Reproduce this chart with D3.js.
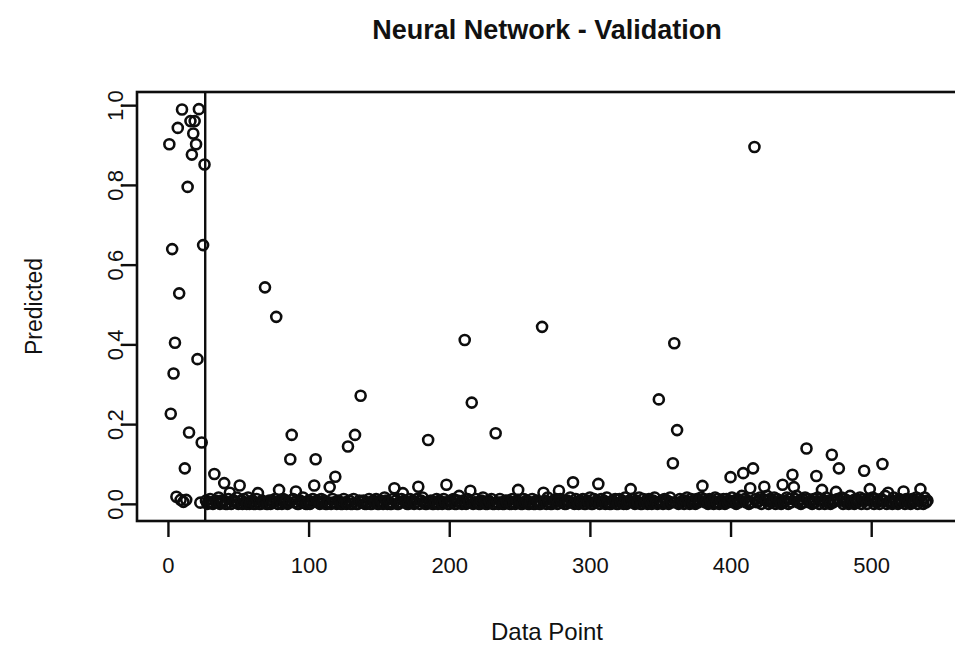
<!DOCTYPE html>
<html>
<head>
<meta charset="utf-8">
<script src="https://cdn.jsdelivr.net/npm/d3@7"></script>
<style>
  body { margin: 0; background: #fff; }
  text { font-family: "Liberation Sans", Arial, sans-serif; fill: #111; }
</style>
</head>
<body>
<svg id="chart" width="955" height="651"></svg>
<script>
// Predicted values for the first 26 data points (left of the cut line)
var headVals = [0.902, 0.226, 0.639, 0.327, 0.404, 0.018, 0.943, 0.528, 0.010, 0.989,
                0.005, 0.089, 0.010, 0.795, 0.179, 0.960, 0.876, 0.929, 0.960, 0.902,
                0.363, 0.990, 0.003, 0.154, 0.649, 0.851];

// Points 27..540 sitting on the floor, one digit each (unit = 0.004)
var floorLevels = [
  "20131002140213003102214002031040120031002130020213",
  "10020312010031200214100201300210312001203100210031",
  "01200310024120013002130021042010031200130210031201",
  "30024100312001302103120021300251020031200131002410",
  "02130021031002120031024100312001300210031204100213",
  "00312002141003102130021400312003120410021300312040",
  "12031021400312031024103120312041031203120241031203",
  "12403120312041302130312041203125031204130312403125",
  "03124031203124031203512031403120312403120412031203",
  "12403120512031240312031240312031250312041203124031",
  "20312403120412"
].join("");

// Points that stand clear of the floor
var spikeIdx = [33, 40, 44, 51, 64, 69, 77, 79, 87, 88, 91, 104, 105, 115, 119,
                128, 133, 137, 161, 167, 178, 185, 198, 211, 215, 216, 233, 249, 266, 267,
                278, 288, 306, 329, 349, 359, 360, 362, 380, 400, 409, 414, 416, 417, 424,
                437, 444, 445, 454, 461, 465, 472, 475, 477, 495, 499, 508, 512, 523, 535];
var spikeVals = [0.075, 0.052, 0.028, 0.046, 0.027, 0.543, 0.469, 0.035, 0.112, 0.173,
                 0.031, 0.046, 0.112, 0.042, 0.068, 0.144, 0.173, 0.271, 0.039, 0.027,
                 0.043, 0.160, 0.048, 0.411, 0.033, 0.254, 0.177, 0.035, 0.444, 0.028,
                 0.033, 0.054, 0.050, 0.037, 0.262, 0.102, 0.403, 0.185, 0.045, 0.067,
                 0.077, 0.039, 0.089, 0.895, 0.043, 0.048, 0.073, 0.042, 0.139, 0.070,
                 0.035, 0.123, 0.030, 0.089, 0.083, 0.037, 0.100, 0.028, 0.031, 0.037];

var xTicks = [0, 100, 200, 300, 400, 500];
var yTicks = [0.0, 0.2, 0.4, 0.6, 0.8, 1.0];
var yTickLabels = ["0.0", "0.2", "0.4", "0.6", "0.8", "1.0"];
var cutLine = 26.5;

// Build the full series: index -> value
var points = [];
headVals.forEach(function (v, i) { points.push({ i: i + 1, v: v }); });
floorLevels.split("").forEach(function (c, k) {
    points.push({ i: headVals.length + 1 + k, v: +c * 0.004 });
});
spikeIdx.forEach(function (idx, k) { points[idx - 1].v = spikeVals[k]; });

var svg = d3.select("#chart");
var ink = "#0d0d0d";

// Plot region (R style box)
var box = { left: 137, right: 957, top: 92, bottom: 521 };

var x = d3.scaleLinear().domain([-22, 561]).range([box.left, box.right]);
var y = d3.scaleLinear().domain([-0.043, 1.033]).range([box.bottom, box.top]);

// Points, open circles like pch = 1
svg.append("g").attr("class", "points")
    .selectAll("circle")
    .data(points)
    .enter().append("circle")
    .attr("cx", function (d) { return x(d.i); })
    .attr("cy", function (d) { return y(d.v); })
    .attr("r", 5)
    .attr("fill", "none")
    .attr("stroke", ink)
    .attr("stroke-width", 2.6);

// Vertical cut line
svg.append("line")
    .attr("x1", x(cutLine)).attr("x2", x(cutLine))
    .attr("y1", box.top).attr("y2", box.bottom)
    .attr("stroke", ink).attr("stroke-width", 2.4);

// Box
svg.append("rect")
    .attr("x", box.left).attr("y", box.top)
    .attr("width", box.right - box.left).attr("height", box.bottom - box.top)
    .attr("fill", "none").attr("stroke", ink).attr("stroke-width", 2.6);

// Bottom axis
var xAxis = d3.axisBottom(x).tickValues(xTicks).tickSize(16).tickPadding(0).tickFormat(d3.format("d"));
var gx = svg.append("g").attr("transform", "translate(0," + box.bottom + ")").call(xAxis);
gx.select(".domain").remove();
gx.selectAll("line").attr("stroke", ink).attr("stroke-width", 2.4);
gx.selectAll("text").attr("y", 52).attr("dy", null).style("font-size", "22px");

// Left axis, labels rotated like R's las = 0
var yAxis = d3.axisLeft(y).tickValues(yTicks).tickSize(16).tickFormat(function (d, i) { return yTickLabels[i]; });
var gy = svg.append("g").attr("transform", "translate(" + box.left + ",0)").call(yAxis);
gy.select(".domain").remove();
gy.selectAll("line").attr("stroke", ink).attr("stroke-width", 2.4);
gy.selectAll("text")
    .attr("x", null).attr("dy", null)
    .attr("text-anchor", "middle")
    .attr("transform", "translate(-14,0) rotate(-90)")
    .style("font-size", "22px");

// Titles
svg.append("text")
    .attr("x", (box.left + box.right) / 2).attr("y", 39)
    .attr("text-anchor", "middle")
    .style("font-size", "27px").style("font-weight", "bold")
    .text("Neural Network - Validation");

svg.append("text")
    .attr("x", (box.left + box.right) / 2).attr("y", 640)
    .attr("text-anchor", "middle")
    .style("font-size", "24px")
    .text("Data Point");

svg.append("text")
    .attr("transform", "translate(42," + (box.top + box.bottom) / 2 + ") rotate(-90)")
    .attr("text-anchor", "middle")
    .style("font-size", "23px")
    .text("Predicted");
</script>
</body>
</html>
